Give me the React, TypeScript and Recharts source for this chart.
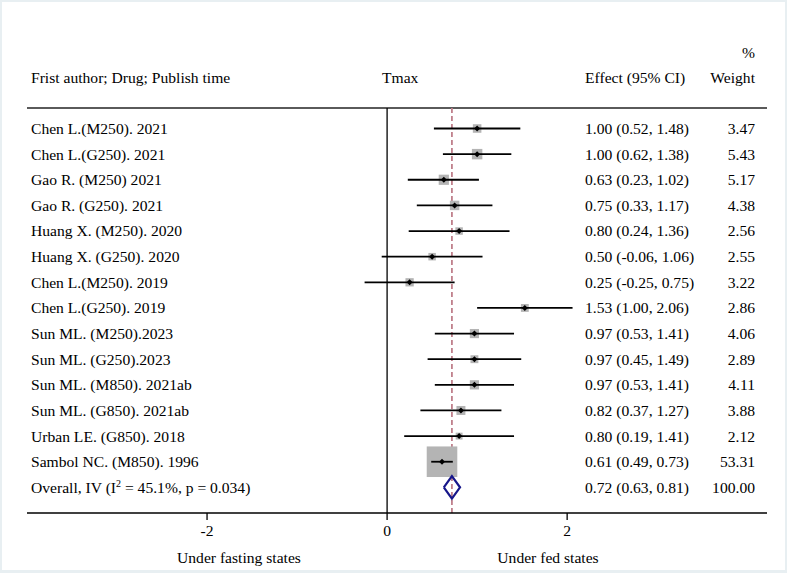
import React from 'react';
import { ScatterChart, Scatter, XAxis, YAxis, ReferenceLine, Customized } from 'recharts';

// study rows, top to bottom
const studies = [
  'Chen L.(M250). 2021',
  'Chen L.(G250). 2021',
  'Gao R. (M250) 2021',
  'Gao R. (G250). 2021',
  'Huang X. (M250). 2020',
  'Huang X. (G250). 2020',
  'Chen L.(M250). 2019',
  'Chen L.(G250). 2019',
  'Sun ML. (M250).2023',
  'Sun ML. (G250).2023',
  'Sun ML. (M850). 2021ab',
  'Sun ML. (G850). 2021ab',
  'Urban LE. (G850). 2018',
  'Sambol NC. (M850). 1996',
];
const effects = [1.0, 1.0, 0.63, 0.75, 0.8, 0.5, 0.25, 1.53, 0.97, 0.97, 0.97, 0.82, 0.8, 0.61];
const lows = [0.52, 0.62, 0.23, 0.33, 0.24, -0.06, -0.25, 1.0, 0.53, 0.45, 0.53, 0.37, 0.19, 0.49];
const highs = [1.48, 1.38, 1.02, 1.17, 1.36, 1.06, 0.75, 2.06, 1.41, 1.49, 1.41, 1.27, 1.41, 0.73];
const weights = [3.47, 5.43, 5.17, 4.38, 2.56, 2.55, 3.22, 2.86, 4.06, 2.89, 4.11, 3.88, 2.12, 53.31];

const overallEffect = 0.72;
const overallLow = 0.63;
const overallHigh = 0.81;
const overallWeight = 100.0;
const overallI2 = '45.1%';
const overallP = '0.034';

const xTicks = [-2, 0, 2];
const xDomain = [-4, 4.22];
const overallRow = studies.length;
const yDomain = [-0.8, 15];
const rowTicks = [...studies.map((_, i) => i), overallRow];

const FONT = '"Liberation Serif", "Times New Roman", serif';
const FS = 15.6;

const studyData = studies.map((name, i) => ({ x: effects[i], y: i, w: weights[i] }));

const ciData = studies.map((name, i) => [
  { x: lows[i], y: i },
  { x: highs[i], y: i },
]);

// overall diamond outline (half height in row units)
const dh = 0.44;
const diamondData = [
  { x: overallLow, y: overallRow },
  { x: overallEffect, y: overallRow - dh },
  { x: overallHigh, y: overallRow },
  { x: overallEffect, y: overallRow + dh },
  { x: overallLow, y: overallRow },
];

const fmt = (v: number) => v.toFixed(2);

const WeightSquare = (props: any) => {
  const { cx, cy, payload } = props;
  const s = 4.05 * Math.sqrt(payload.w) + 1;
  return <rect x={cx - s / 2} y={cy - s / 2} width={s} height={s} fill="#b4b4b4" />;
};

const PointMark = (props: any) => {
  const { cx, cy } = props;
  const r = 3;
  return <polygon points={`${cx - r},${cy} ${cx},${cy - r} ${cx + r},${cy} ${cx},${cy + r}`} fill="#000" />;
};

const NoMark = () => <g />;

const RowTick = (props: any) => {
  const { y, payload } = props;
  const i = payload.value;
  const isOverall = i === overallRow;
  const eff = isOverall ? overallEffect : effects[i];
  const lo = isOverall ? overallLow : lows[i];
  const hi = isOverall ? overallHigh : highs[i];
  const w = isOverall ? overallWeight : weights[i];
  return (
    <g fontFamily={FONT} fontSize={FS} fill="#000">
      {isOverall ? (
        <text x={31} y={y} dy="0.35em">
          Overall, IV (I
          <tspan dy={-6} fontSize={10}>2</tspan>
          <tspan dy={6}>{` = ${overallI2}, p = ${overallP})`}</tspan>
        </text>
      ) : (
        <text x={31} y={y} dy="0.35em">{studies[i]}</text>
      )}
      <text x={585} y={y} dy="0.35em">{`${fmt(eff)} (${fmt(lo)}, ${fmt(hi)})`}</text>
      <text x={755} y={y} dy="0.35em" textAnchor="end">{fmt(w)}</text>
    </g>
  );
};

const Headers = () => (
  <g fontFamily={FONT} fontSize={FS} fill="#000">
    <text x={31} y={83}>Frist author; Drug; Publish time</text>
    <text x={382} y={83}>Tmax</text>
    <text x={585} y={83}>Effect (95% CI)</text>
    <text x={755} y={58} textAnchor="end">%</text>
    <text x={755} y={83} textAnchor="end">Weight</text>
    <text x={239} y={563} textAnchor="middle">Under fasting states</text>
    <text x={548} y={563} textAnchor="middle">Under fed states</text>
  </g>
);

export default function App() {
  return (
    <div style={{ position: 'absolute', left: 0, top: 0, width: 787, height: 573, background: '#e8eff2' }}>
      <div style={{ position: 'absolute', left: 2, top: 2, width: 783, height: 568, background: '#fff' }} />
      <div style={{ position: 'absolute', left: 0, top: 0 }}>
        <ScatterChart width={787} height={573} margin={{ top: 108, right: 20, bottom: 0, left: 26 }}>
          <XAxis
            type="number"
            dataKey="x"
            domain={xDomain}
            ticks={xTicks}
            height={60}
            axisLine={{ stroke: '#000', strokeWidth: 1.3 }}
            tickLine={{ stroke: '#000', strokeWidth: 1.3 }}
            tickSize={7}
            tickMargin={5}
            tick={{ fill: '#000', fontSize: FS, fontFamily: FONT }}
          />
          <YAxis
            type="number"
            dataKey="y"
            domain={yDomain}
            reversed
            ticks={rowTicks}
            interval={0}
            width={1}
            axisLine={false}
            tickLine={false}
            tick={(p: any) => <RowTick {...p} />}
          />
          <ReferenceLine y={yDomain[0]} stroke="#5a5a5a" strokeWidth={2} />
          <ReferenceLine x={0} stroke="#000" strokeWidth={1.3} />
          <Scatter data={studyData} shape={<WeightSquare />} isAnimationActive={false} />
          {ciData.map((seg, i) => (
            <Scatter
              key={studies[i]}
              data={seg}
              line={{ stroke: '#000', strokeWidth: 1.8 }}
              lineType="joint"
              shape={<NoMark />}
              isAnimationActive={false}
            />
          ))}
          <Scatter data={studyData} shape={<PointMark />} isAnimationActive={false} />
          <Scatter
            data={diamondData}
            line={{ stroke: '#16168a', strokeWidth: 2.2 }}
            lineType="joint"
            shape={<NoMark />}
            isAnimationActive={false}
          />
          <ReferenceLine x={overallEffect} stroke="#c0808c" strokeWidth={1.8} strokeDasharray="5 3" />
          <Customized component={Headers} />
        </ScatterChart>
      </div>
    </div>
  );
}
